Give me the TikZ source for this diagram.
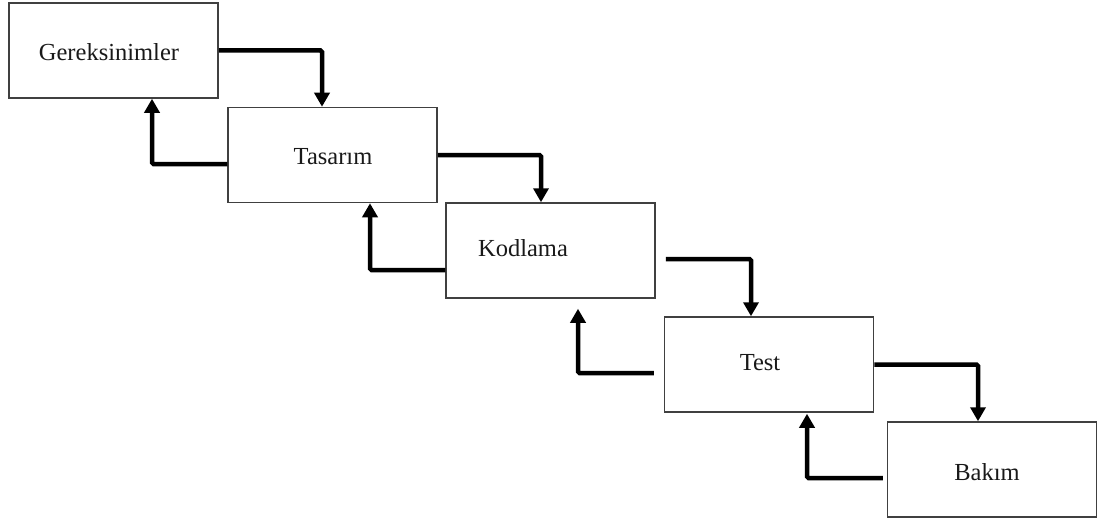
\documentclass[tikz,border=0pt]{standalone}
\usepackage{fontspec}
\setmainfont{Liberation Serif}
\usetikzlibrary{arrows.meta,calc}
\begin{document}
\begin{tikzpicture}[x=1pt,y=-1pt,
  phase/.style={draw=black!75,line width=1.5pt,minimum width=209pt,minimum height=95pt,inner sep=0pt},
  lbl/.style={font=\fontsize{24.5}{28}\selectfont,text=black!90,inner sep=0pt},
  flow/.style={line width=4.5pt,rounded corners=1.5pt,-{Triangle[length=14pt,width=15pt]}}]
\useasboundingbox (0,0) rectangle (1101,519);

% phase boxes
\node[phase] (g)  at (113.5,50.5) {};
\node[phase] (t)  at (332.5,155)  {};
\node[phase] (k)  at (550.5,250.5) {};
\node[phase] (te) at (769,364.5)  {};
\node[phase] (b)  at (992,469.5)  {};

% labels
\node[lbl] (gl)  at (109,52)  {Gereksinimler};
\node[lbl] (tl)  at (333,157) {Tasarım};
\node[lbl] (kl)  at (523,248) {Kodlama};
\node[lbl] (tel) at (760,363) {Test};
\node[lbl] (bl)  at (987,472) {Bakım};

% forward steps
\draw[flow] (g.east) -| ($(t.north)+(-10.5,0)$);
\draw[flow] (t.east) -| ($(k.north)+(-9.5,0)$);
\draw[flow] ($(k.east)+(10,8.5)$) -| ($(te.north)+(-18,0)$);
\draw[flow] (te.east) -| ($(b.north)+(-14,0)$);

% feedback steps
\draw[flow] ($(t.west)+(0,9)$) -| ($(g.south)+(38.5,0)$);
\draw[flow] ($(k.west)+(0,19.5)$) -| ($(t.south)+(37.5,0)$);
\draw[flow] ($(te.west)+(-10,8.5)$) -| ($(k.south)+(27.5,10)$);
\draw[flow] ($(b.west)+(-4,8.5)$) -| ($(te.south)+(38,1)$);
\end{tikzpicture}
\end{document}
